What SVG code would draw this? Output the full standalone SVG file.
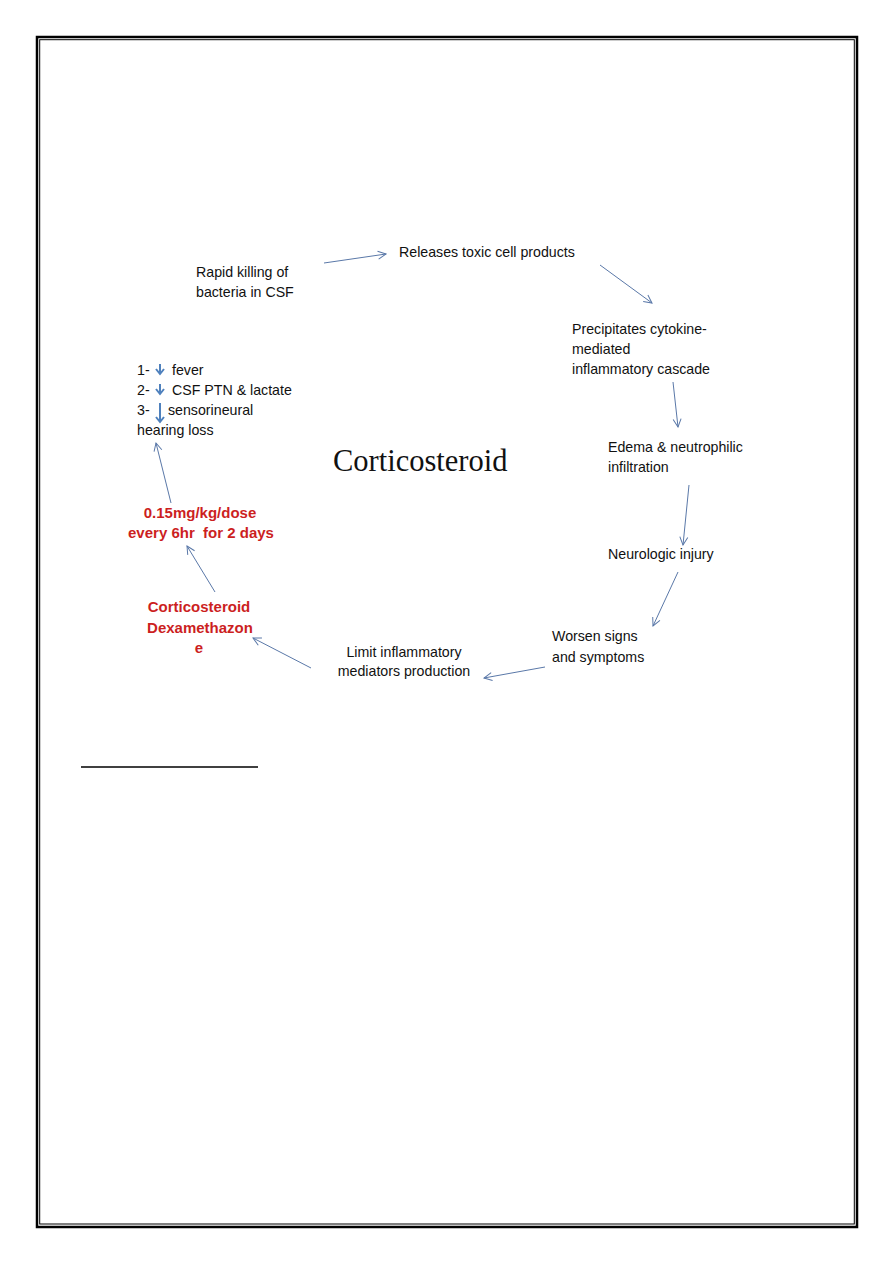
<svg xmlns="http://www.w3.org/2000/svg" width="893" height="1263" viewBox="0 0 893 1263">
<defs>
<marker id="ah" markerWidth="10" markerHeight="10" refX="9" refY="5" orient="auto" markerUnits="userSpaceOnUse">
<path d="M1,1 L9,5 L1,9" fill="none" stroke="#5a78a8" stroke-width="1"/>
</marker>
<style>
text{font-family:"Liberation Sans",Arial,sans-serif;font-size:14.2px;fill:#111}
.red{fill:#cc1f1f;font-weight:bold;text-anchor:middle;font-size:15px}
.mid{text-anchor:middle}
.big{font-family:"Liberation Serif","Times New Roman",serif;font-size:30.5px;fill:#111}
.conn line{stroke:#5a78a8;stroke-width:1;marker-end:url(#ah)}
.down{stroke:#4f81bd;stroke-width:2;fill:none}
</style>
</defs>
<rect width="893" height="1263" fill="#fff"/>
<g id="border" fill="none" stroke="#000">
<rect x="37" y="37" width="820" height="1190" stroke-width="2.5"/>
<rect x="39.7" y="39.7" width="814.6" height="1184.3" stroke-width="1"/>
</g>
<g id="n-center"><text class="big" x="333" y="471">Corticosteroid</text></g>
<g id="n-rapid"><text x="196" y="277">Rapid killing of</text><text x="196" y="297">bacteria in CSF</text></g>
<g id="n-releases"><text x="399" y="257">Releases toxic cell products</text></g>
<g id="n-precip"><text x="572" y="334">Precipitates cytokine-</text><text x="572" y="354">mediated</text><text x="572" y="374">inflammatory cascade</text></g>
<g id="n-edema"><text x="608" y="452">Edema &amp; neutrophilic</text><text x="608" y="472">infiltration</text></g>
<g id="n-neuro"><text x="608" y="559">Neurologic injury</text></g>
<g id="n-worsen"><text x="552" y="641">Worsen signs</text><text x="552" y="662">and symptoms</text></g>
<g id="n-limit"><text class="mid" x="404" y="657">Limit inflammatory</text><text class="mid" x="404" y="676">mediators production</text></g>
<g id="n-dexa"><text class="red" x="199" y="612">Corticosteroid</text><text class="red" x="200" y="633">Dexamethazon</text><text class="red" x="199" y="653">e</text></g>
<g id="n-dose"><text class="red" x="200" y="518">0.15mg/kg/dose</text><text class="red" x="201" y="538" xml:space="preserve">every 6hr  for 2 days</text></g>
<g id="n-effects">
<text x="137" y="375">1-</text><text x="172" y="375">fever</text>
<text x="137" y="395">2-</text><text x="172" y="395">CSF PTN &amp; lactate</text>
<text x="137" y="415">3-</text><text x="168" y="415">sensorineural</text>
<text x="137" y="435">hearing loss</text>
<path class="down" d="M160,364 V374 M156,369 L160,374 L164,369"/>
<path class="down" d="M160,384 V394 M156,389 L160,394 L164,389"/>
<path class="down" d="M160,403 V422 M156,417 L160,422 L164,417"/>
</g>
<g id="connectors" class="conn">
<line x1="324" y1="263" x2="386" y2="254"/>
<line x1="600" y1="265" x2="652" y2="303"/>
<line x1="673" y1="382" x2="678" y2="427"/>
<line x1="689" y1="485" x2="683" y2="545"/>
<line x1="678" y1="572" x2="653" y2="626"/>
<line x1="545" y1="667" x2="484" y2="678"/>
<line x1="311" y1="668" x2="253" y2="638"/>
<line x1="215" y1="592" x2="187" y2="546"/>
<line x1="171" y1="503" x2="156" y2="443"/>
</g>
<line x1="81" y1="767" x2="258" y2="767" stroke="#000" stroke-width="1.5"/>
</svg>
